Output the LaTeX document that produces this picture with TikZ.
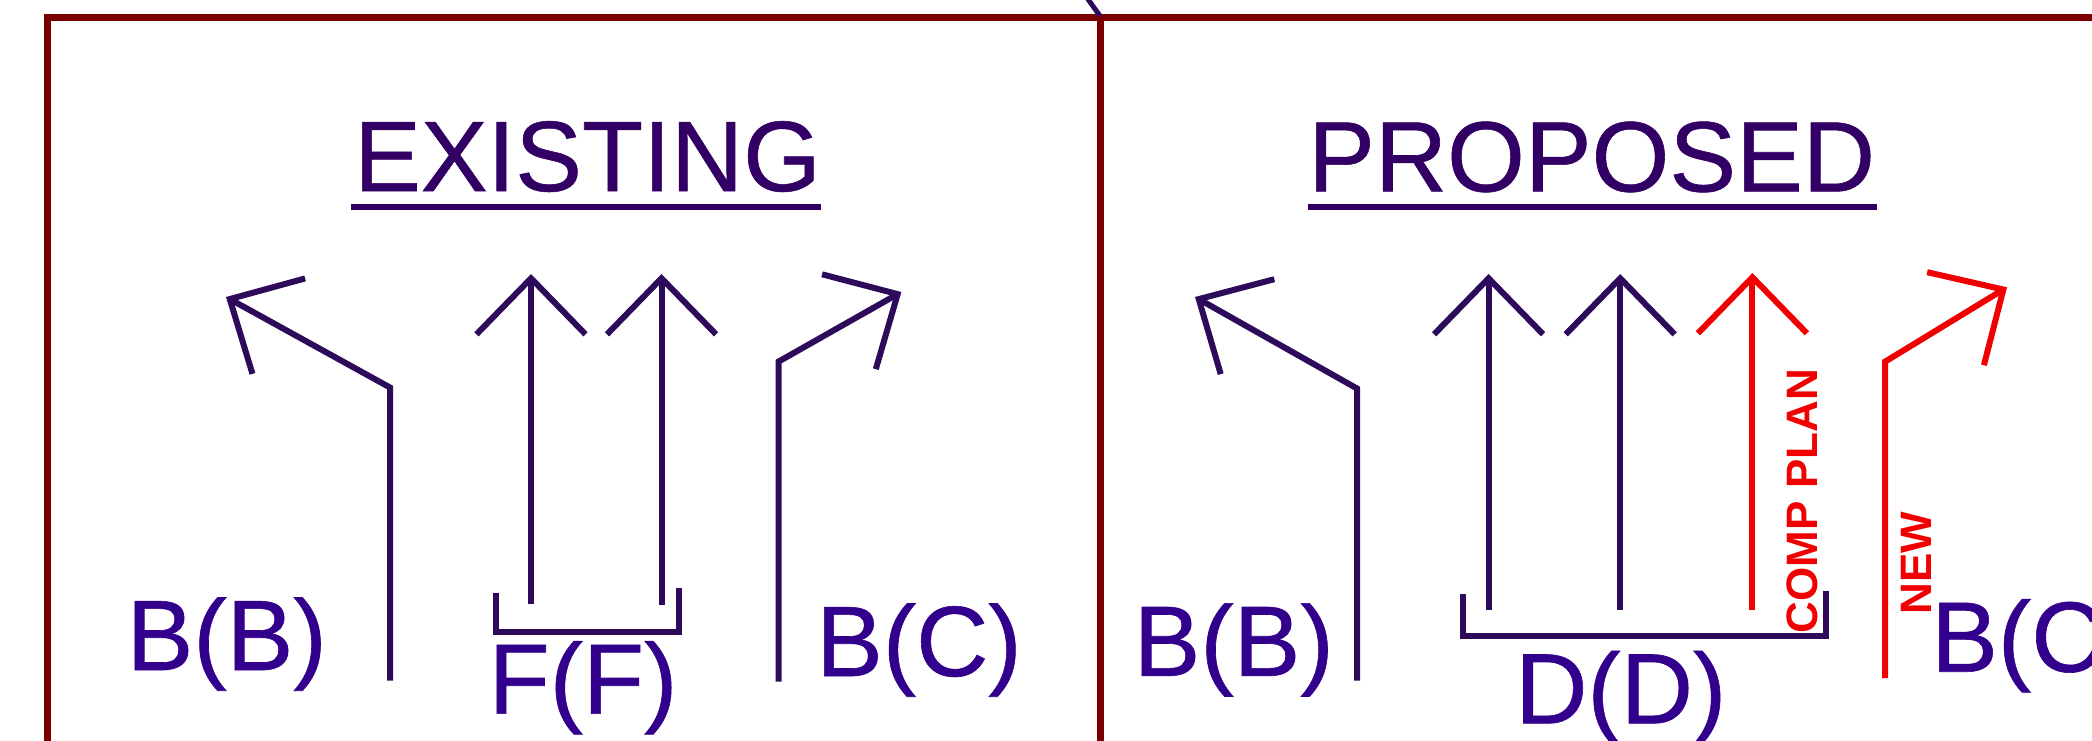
\documentclass[tikz,border=0pt]{standalone}
\usepackage{fontspec}
\setmainfont{Liberation Sans}
\newfontfamily\labelfont[FakeBold=0.6]{Liberation Sans}
\usetikzlibrary{arrows.meta}

\definecolor{framecol}{RGB}{122,0,0}
\definecolor{titlecol}{RGB}{50,0,100}
\definecolor{labelcol}{RGB}{50,0,140}
\definecolor{lanecol}{RGB}{45,10,90}
\definecolor{newcol}{RGB}{240,0,0}

\tikzset{
  frame/.style = {
    draw          = framecol,   % panel border
    line width    = 7pt,        % border width
  },
  lane/.style = {
    draw          = lanecol,    % lane arrow
    line width    = 6pt,        % arrow width
    -{Straight Barb[length=56pt, width=109pt]},
  },
  newlane/.style = {
    lane,
    draw          = newcol,     % proposed lane in red
  },
  bracket/.style = {
    draw          = lanecol,
    line width    = 6pt,
  },
  title/.style = {
    anchor        = base,
    inner sep     = 0pt,
    font          = \labelfont\fontsize{100}{110}\selectfont,
    text          = titlecol,   % heading color
  },
  lanelabel/.style = {
    anchor        = base,
    inner sep     = 0pt,
    font          = \labelfont\fontsize{100}{110}\selectfont,
    text          = labelcol,   % lane label color
  },
  notelabel/.style = {
    rotate        = 90,
    inner sep     = 0pt,
    font          = \fontsize{44}{48}\selectfont\bfseries,
    text          = newcol,     % red note
  },
}

\begin{document}
\begin{tikzpicture}[x=1pt, y=-1pt]
\useasboundingbox (0,0) rectangle (2092,741);

% panel frame
\draw[frame] (47,790) -- (47,17.5) -- (2140,17.5);
\draw[frame] (1100,790) -- (1100,17.5);
\draw[draw=lanecol, line width=5pt] (1085,-5) -- (1100,16);

% existing
\node[title] (existing) at (587.5,191) {EXISTING};
\draw[draw=titlecol, line width=6pt] (351,206.5) -- (821,206.5);

\coordinate (exLtS) at (390,680.5);
\coordinate (exLtB) at (390,387.5);
\coordinate (exLtE) at (226,297);
\draw[lane] (exLtS) -- (exLtB) -- (exLtE);
\draw[lane] (531,604) -- (531,274);
\draw[lane] (661.5,605) -- (661.5,274);
\coordinate (exRtS) at (778.7,681.5);
\coordinate (exRtB) at (778.7,361.5);
\coordinate (exRtE) at (901.4,292);
\draw[lane] (exRtS) -- (exRtB) -- (exRtE);
\draw[bracket] (496,593) -- (496,632) -- (679,632) -- (679,588.4);

\node[lanelabel] (exBB) at (226.7,670) {B(B)};
\node[lanelabel] (exFF) at (583,713.6) {F(F)};
\node[lanelabel] (exBC) at (918.9,676) {B(C)};

% proposed
\node[title] (proposed) at (1591.6,191.4) {PROPOSED};
\draw[draw=titlecol, line width=6pt] (1307.8,206.5) -- (1877.4,206.5);

\coordinate (prLtS) at (1357,680.5);
\coordinate (prLtB) at (1357,388.5);
\coordinate (prLtE) at (1195,297);
\draw[lane] (prLtS) -- (prLtB) -- (prLtE);
\draw[lane] (1488.6,609.6) -- (1488.6,274);
\draw[lane] (1620.2,609.6) -- (1620.2,274);
\draw[newlane] (1752.4,609.6) -- (1752.4,273);
\coordinate (prRtS) at (1885,678);
\coordinate (prRtB) at (1885,361.7);
\coordinate (prRtE) at (2007,287.3);
\draw[newlane] (prRtS) -- (prRtB) -- (prRtE);
\draw[bracket] (1462.5,594) -- (1462.5,635.6) -- (1826,635.6) -- (1826,590.5);

\node[lanelabel] (prBB) at (1233.7,675.8) {B(B)};
\node[lanelabel] (prDD) at (1620.8,723.3) {D(D)};
\node[lanelabel, anchor=base west] (prBC) at (1931,671.7) {B(C)};
\node[notelabel] (comp) at (1802,501) {COMP PLAN};
\node[notelabel] (new)  at (1916.3,563.4) {NEW};
\end{tikzpicture}
\end{document}
